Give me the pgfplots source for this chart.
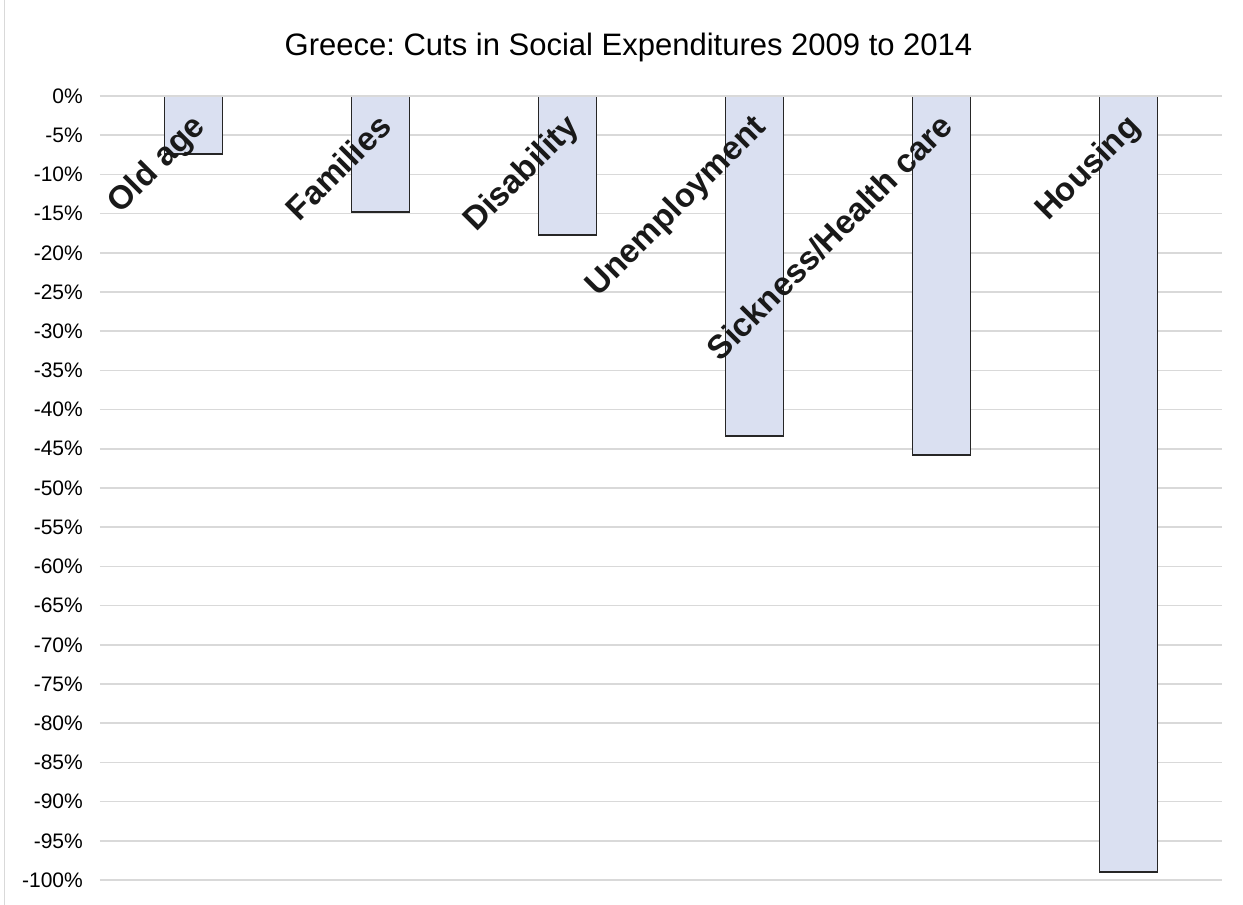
\documentclass[border=0pt]{standalone}
\usepackage{pgfplots}
\pgfplotsset{compat=1.18}
\usepackage{fontspec}
\setmainfont{Liberation Sans}
\frenchspacing
\definecolor{barfill}{RGB}{218,224,241}
\definecolor{gridgray}{RGB}{217,217,217}
\begin{document}
\begin{tikzpicture}
\useasboundingbox (-100pt,-25pt) rectangle (1143pt,880pt);
\draw[gridgray, line width=1.5pt] (-95.5pt,-25pt) -- (-95.5pt,880pt);
\begin{axis}[
  at={(0pt,0pt)}, anchor=south west,
  scale only axis,
  width=1122pt, height=784pt,
  xmin=-0.5, xmax=5.5,
  ymin=-100, ymax=0,
  axis line style={draw=none},
  major tick length=0pt,
  xtick=\empty,
  ytick={-100,-95,-90,-85,-80,-75,-70,-65,-60,-55,-50,-45,-40,-35,-30,-25,-20,-15,-10,-5,0},
  yticklabels={-100\%,-95\%,-90\%,-85\%,-80\%,-75\%,-70\%,-65\%,-60\%,-55\%,-50\%,-45\%,-40\%,-35\%,-30\%,-25\%,-20\%,-15\%,-10\%,-5\%,0\%},
  yticklabel style={font=\fontsize{21pt}{24pt}\selectfont, inner sep=0pt, xshift=-17pt, anchor=east},
  ymajorgrids,
  grid style={gridgray, line width=1.5pt},
  ybar, bar width=58pt,
  clip=false,
]
\addplot[fill=barfill, draw=black!85, line width=1.5pt] coordinates {
  (0,-7.4) (1,-14.8) (2,-17.7) (3,-43.4) (4,-45.8) (5,-99.0)
};
\draw[gridgray, line width=2pt] (rel axis cs:0,1) -- (rel axis cs:1,1);
\foreach \i/\lab in {0/Old age,1/Families,2/Disability,3/Unemployment,4/Sickness\slash Health care,5/Housing}{
  \edef\temp{\noexpand\node[xshift=13pt, yshift=-4.5pt, anchor=base east, rotate=45, inner sep=0pt,
    font=\noexpand\fontsize{33pt}{36pt}\noexpand\selectfont\noexpand\bfseries, text=black!90]
    at (axis cs:\i,-3.57) {\unexpanded\expandafter{\lab}};}
  \temp
}
\end{axis}
\node[anchor=base, inner sep=0pt, font=\fontsize{31pt}{34pt}\selectfont] at (528.5pt,824pt) {Greece: Cuts in Social Expenditures 2009 to 2014};
\end{tikzpicture}
\end{document}
